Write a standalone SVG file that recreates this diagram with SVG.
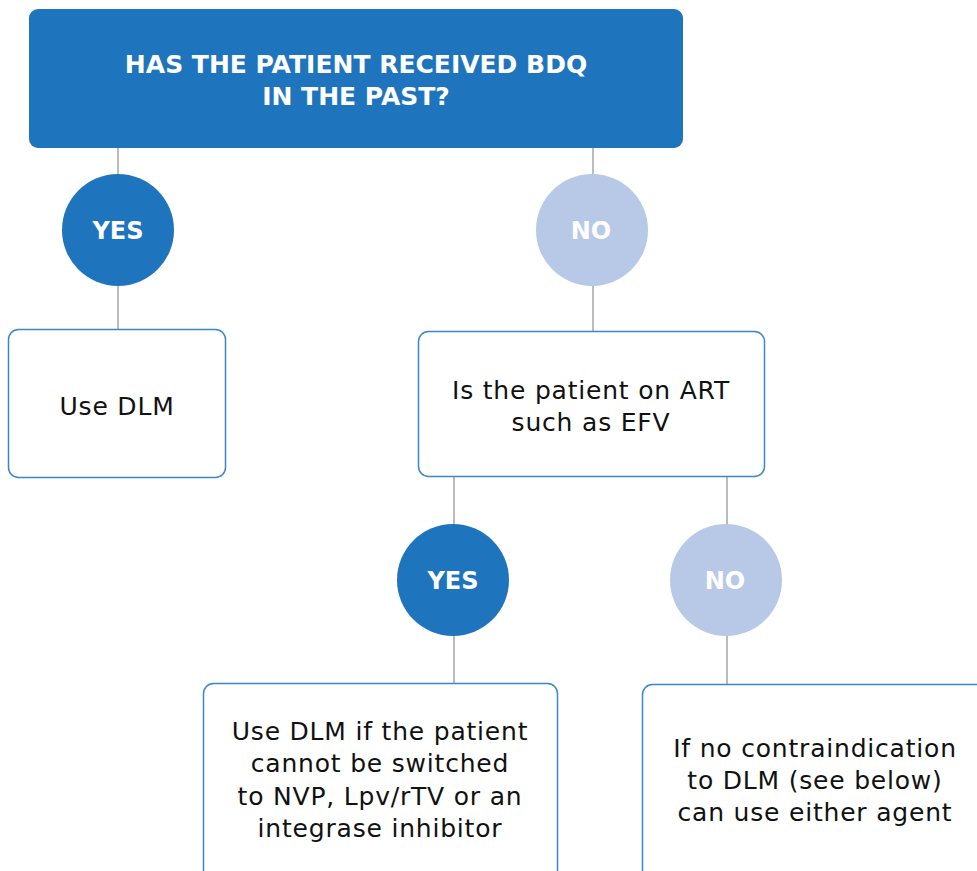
<svg xmlns="http://www.w3.org/2000/svg" width="977" height="871" viewBox="0 0 977 871">
<style>
.box{fill:#ffffff;stroke:#3b87c9;stroke-width:1.5}
.conn{stroke:#a6a6a6;stroke-width:1.5;fill:none}
.yes{fill:#1f75bd}
.no{fill:#b8c9e7}
.ct{font-family:"DejaVu Sans","Liberation Sans",sans-serif;font-weight:700;font-size:24px;fill:#ffffff;text-anchor:middle}
.ht{font-family:"DejaVu Sans","Liberation Sans",sans-serif;font-weight:700;font-size:25px;fill:#ffffff;text-anchor:middle}
.bt{font-family:"DejaVu Sans","Liberation Sans",sans-serif;font-size:25px;letter-spacing:0.8px;fill:#111111;text-anchor:middle}
</style>
<rect width="977" height="871" fill="#ffffff"/>
<g id="connectors">
<line class="conn" x1="118" y1="148" x2="118" y2="329"/>
<line class="conn" x1="593" y1="148" x2="593" y2="331"/>
<line class="conn" x1="454" y1="477" x2="454" y2="683"/>
<line class="conn" x1="727" y1="477" x2="727" y2="684"/>
</g>
<g id="question">
<rect x="29" y="9" width="654" height="139" rx="9" fill="#1f75bd"/>
<text class="ht" x="356" y="73">HAS THE PATIENT RECEIVED BDQ</text>
<text class="ht" x="356" y="105">IN THE PAST?</text>
</g>
<g id="yes1">
<circle class="yes" cx="118" cy="230" r="56"/>
<text class="ct" x="118" y="239">YES</text>
</g>
<g id="no1">
<circle class="no" cx="592" cy="230" r="56"/>
<text class="ct" x="591" y="239">NO</text>
</g>
<g id="useDLM">
<rect class="box" x="8.5" y="329.5" width="217" height="148" rx="10"/>
<text class="bt" x="117" y="415">Use DLM</text>
</g>
<g id="art">
<rect class="box" x="418.5" y="331.5" width="346" height="145" rx="10"/>
<text class="bt" x="591" y="399">Is the patient on ART</text>
<text class="bt" x="591" y="431">such as EFV</text>
</g>
<g id="yes2">
<circle class="yes" cx="453" cy="580" r="56"/>
<text class="ct" x="453" y="589">YES</text>
</g>
<g id="no2">
<circle class="no" cx="726" cy="580" r="56"/>
<text class="ct" x="725" y="589">NO</text>
</g>
<g id="switch">
<rect class="box" x="203.5" y="683.5" width="354" height="200" rx="10"/>
<text class="bt" x="380" y="740">Use DLM if the patient</text>
<text class="bt" x="380" y="772">cannot be switched</text>
<text class="bt" x="380" y="805">to NVP, Lpv/rTV or an</text>
<text class="bt" x="380" y="837">integrase inhibitor</text>
</g>
<g id="either">
<rect class="box" x="642.5" y="684.5" width="350" height="200" rx="10"/>
<text class="bt" x="815" y="757">If no contraindication</text>
<text class="bt" x="815" y="789">to DLM (see below)</text>
<text class="bt" x="815" y="821">can use either agent</text>
</g>
</svg>
